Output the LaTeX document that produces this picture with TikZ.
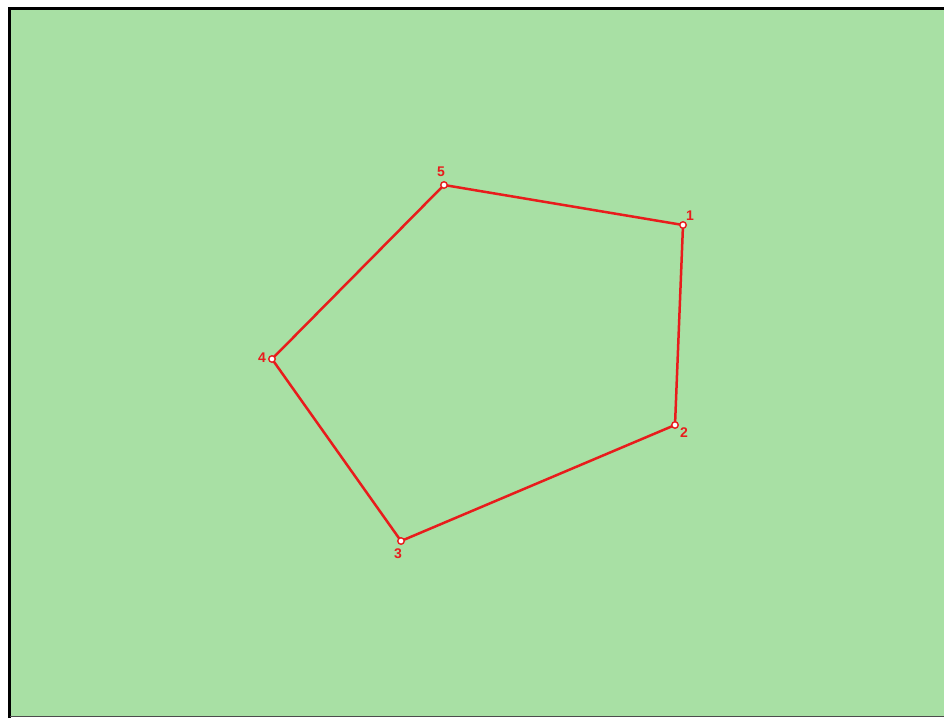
\documentclass[tikz,border=0pt]{standalone}
\usepackage{fontspec}
\setmainfont{Liberation Sans}
\definecolor{bggreen}{RGB}{168,224,164}
\definecolor{polyred}{RGB}{232,28,28}
\begin{document}
\begin{tikzpicture}[x=1pt,y=-1pt,
  vert/.style={circle,draw=polyred,fill=white,line width=1.4pt,inner sep=0pt,minimum size=6.5pt},
  lbl/.style={text=polyred,font=\bfseries\fontsize{14}{14}\selectfont,inner sep=0pt},
  edge/.style={draw=polyred,line width=2.5pt}]
\useasboundingbox (0,0) rectangle (944,718);
\fill[white] (0,0) rectangle (944,718);
\fill[bggreen] (9.5,8.5) rectangle (944,716);
\draw[black,line width=3pt] (9.5,718) -- (9.5,8.5) -- (944,8.5);
\draw[black!70,line width=1.2pt] (9.5,716.5) -- (944,716.5);
\coordinate (p1) at (683,225);
\coordinate (p2) at (675,425);
\coordinate (p3) at (401,541);
\coordinate (p4) at (272,359);
\coordinate (p5) at (444,185);
\draw[edge] (p1) -- (p2) -- (p3) -- (p4) -- (p5) -- cycle;
\node[vert] (v1) at (p1) {};
\node[vert] (v2) at (p2) {};
\node[vert] (v3) at (p3) {};
\node[vert] (v4) at (p4) {};
\node[vert] (v5) at (p5) {};
\node[lbl] (l1) at (690,216) {1};
\node[lbl] (l2) at (684,433) {2};
\node[lbl] (l3) at (398,554) {3};
\node[lbl] (l4) at (262,358) {4};
\node[lbl] (l5) at (441,172) {5};
\end{tikzpicture}
\end{document}
